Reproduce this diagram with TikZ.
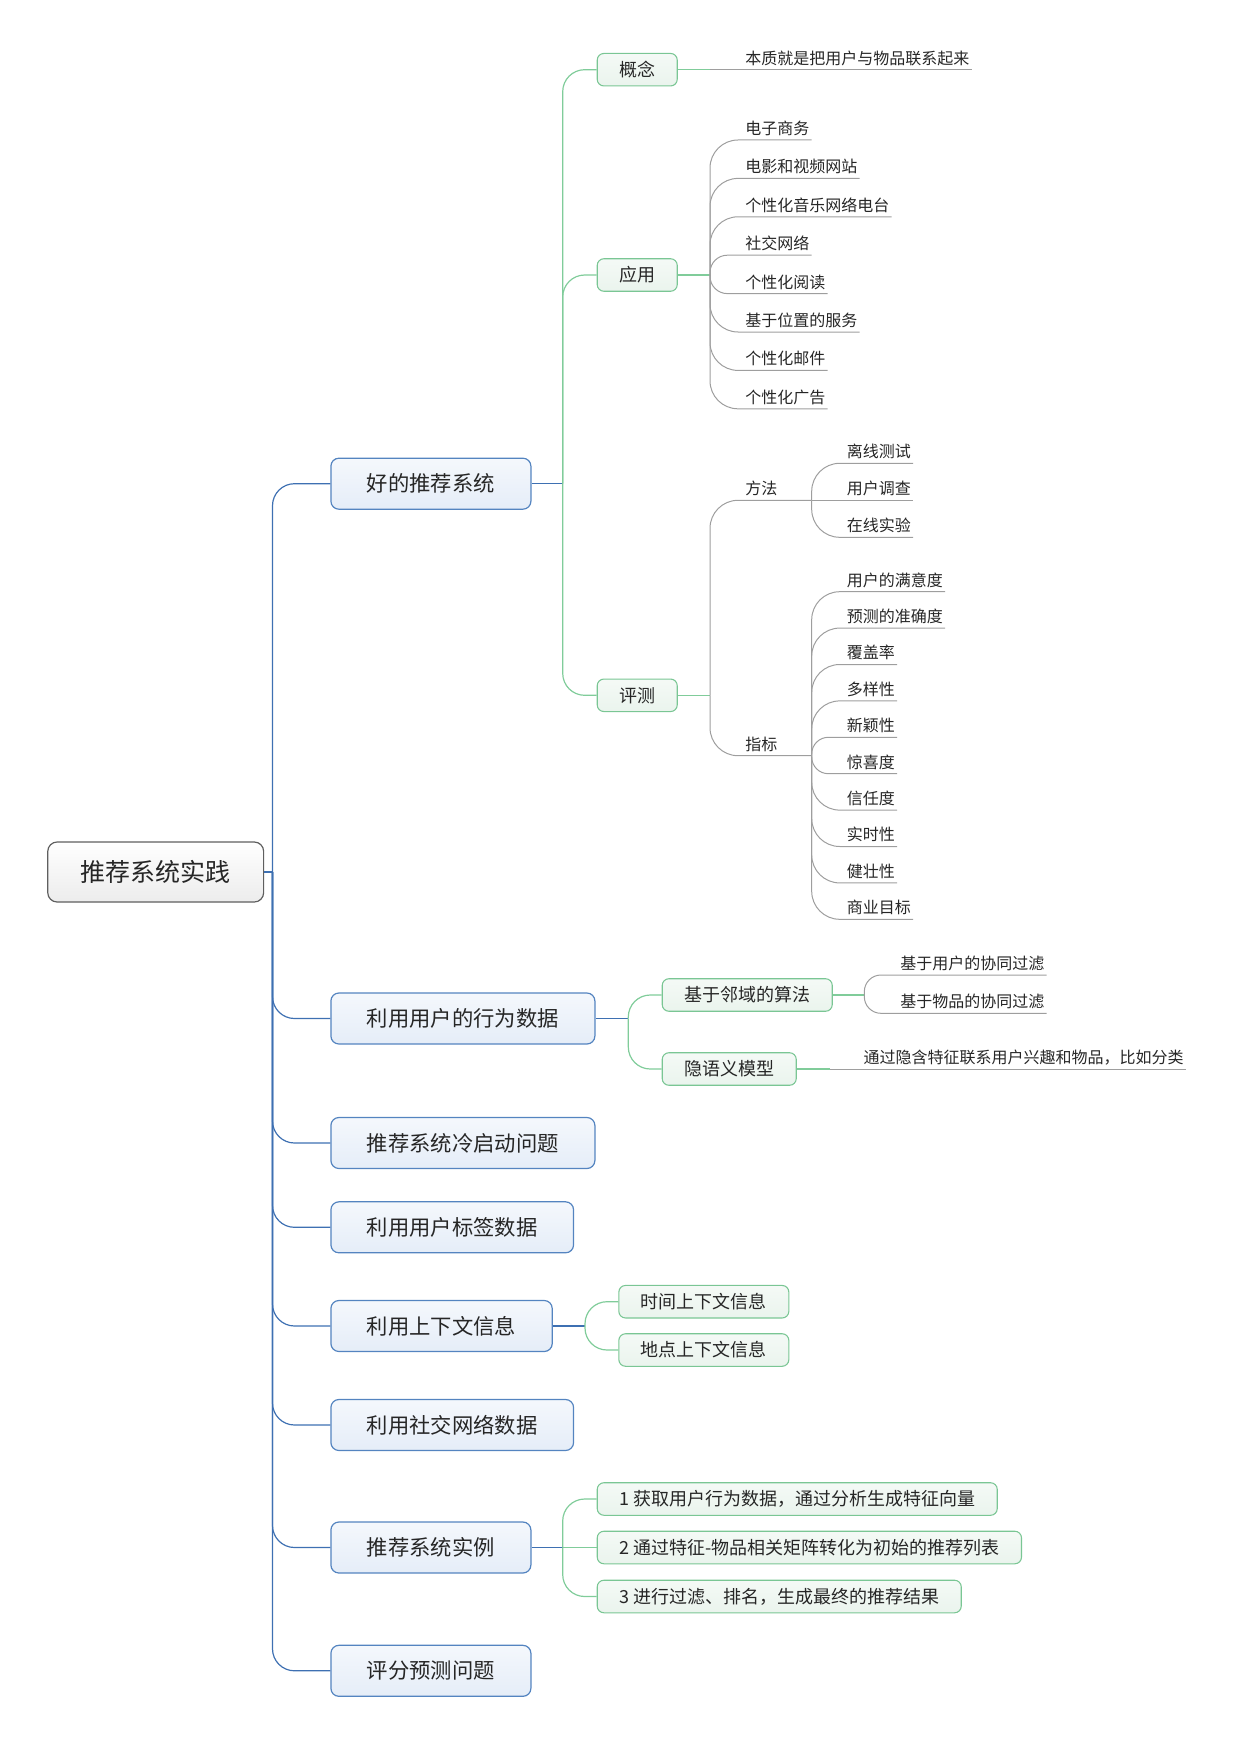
\documentclass[tikz,border=0pt]{standalone}
\usepackage{fontspec}
\setmainfont{Noto Sans CJK SC}
\usepackage{tikz}
\usetikzlibrary{positioning}
\definecolor{trunkblue}{RGB}{62,112,178}
\definecolor{topicedge}{RGB}{84,132,192}
\definecolor{topicfill}{RGB}{229,237,248}
\definecolor{rootedge}{RGB}{95,95,95}
\definecolor{rootfill}{RGB}{236,236,236}
\definecolor{subedge}{RGB}{122,198,148}
\definecolor{subfill}{RGB}{234,244,237}
\definecolor{branchgreen}{RGB}{128,204,154}
\definecolor{leafgray}{RGB}{158,158,158}
\definecolor{inktext}{RGB}{38,38,38}
\tikzstyle{rootbox} = [rectangle, rounded corners=7pt, draw=rootedge, line width=0.9pt, top color=white, bottom color=rootfill, minimum height=45pt, inner xsep=24.7pt, text=inktext, font=\fontsize{18.75}{22}\selectfont]
\tikzstyle{topic} = [rectangle, rounded corners=6pt, draw=topicedge, line width=0.9pt, top color=white!60!topicfill, bottom color=topicfill, minimum height=38.25pt, inner xsep=27pt, anchor=west, text=inktext, font=\fontsize{16}{19}\selectfont]
\tikzstyle{subtopic} = [rectangle, rounded corners=5pt, draw=subedge, line width=0.8pt, top color=white!50!subfill, bottom color=subfill, minimum height=24.4pt, inner xsep=16.5pt, anchor=west, text=inktext, font=\fontsize{13.5}{16}\selectfont]
\tikzstyle{leaf} = [inner xsep=1.5pt, inner ysep=2.5pt, text depth=1.5pt, anchor=south west, text=inktext, font=\fontsize{12}{14}\selectfont]
\tikzstyle{trunkline} = [draw=trunkblue, line width=0.9pt, rounded corners=16.5pt]
\tikzstyle{greenline} = [draw=branchgreen, line width=0.9pt, rounded corners=16.5pt]
\tikzstyle{grayline} = [draw=leafgray, line width=0.75pt, rounded corners=21pt]

\begin{document}
\begin{tikzpicture}[x=0.75pt, y=-0.75pt]
  \useasboundingbox (0,0) rectangle (1237,1744);

  % root and main topics
  \node (root) [rootbox] at (155.7,872) {推荐系统实践};
  \coordinate (trunk) at (272.5,872);
  \node (t1) [topic] at (330.3,483.7) {好的推荐系统};
  \node (t2) [topic] at (330.3,1018.5) {利用用户的行为数据};
  \node (t3) [topic] at (330.3,1143) {推荐系统冷启动问题};
  \node (t4) [topic] at (330.3,1227.3) {利用用户标签数据};
  \node (t5) [topic] at (330.3,1326) {利用上下文信息};
  \node (t6) [topic] at (330.3,1425) {利用社交网络数据};
  \node (t7) [topic] at (330.3,1547.5) {推荐系统实例};
  \node (t8) [topic] at (330.3,1670.8) {评分预测问题};

  \draw[trunkline] (root.east) -- (trunk);
  \draw[trunkline] (trunk) |- (t1.west);
  \draw[trunkline] (trunk) |- (t2.west);
  \draw[trunkline] (trunk) |- (t3.west);
  \draw[trunkline] (trunk) |- (t4.west);
  \draw[trunkline] (trunk) |- (t5.west);
  \draw[trunkline] (trunk) |- (t6.west);
  \draw[trunkline] (trunk) |- (t7.west);
  \draw[trunkline] (trunk) |- (t8.west);

  % 好的推荐系统
  \coordinate (t1j) at (562.7,483.7);
  \node (gn) [subtopic] at (596.7,69.7) {概念};
  \node (yy) [subtopic] at (596.7,275) {应用};
  \node (pc) [subtopic] at (596.7,695.3) {评测};
  \draw[trunkline] (t1.east) -- (t1j);
  \draw[greenline] (t1j) |- (gn.west);
  \draw[greenline] (t1j) |- (yy.west);
  \draw[greenline] (t1j) |- (pc.west);

  \coordinate (gnj) at (710,69.7);
  \node (gn1) [leaf] at (743,69.7) {本质就是把用户与物品联系起来};
  \draw[greenline] (gn.east) -- (gnj);
  \draw[grayline] (gnj) -- (gn1.south east);

  \coordinate (yyj) at (710,275);
  \node (app1) [leaf] at (743,140) {电子商务};
  \node (app2) [leaf] at (743,178.4) {电影和视频网站};
  \node (app3) [leaf] at (743,216.8) {个性化音乐网络电台};
  \node (app4) [leaf] at (743,255.2) {社交网络};
  \node (app5) [leaf] at (743,293.6) {个性化阅读};
  \node (app6) [leaf] at (743,332) {基于位置的服务};
  \node (app7) [leaf] at (743,370.4) {个性化邮件};
  \node (app8) [leaf] at (743,408.8) {个性化广告};
  \draw[greenline] (yy.east) -- (yyj);
  \draw[grayline] (yyj) |- (app1.south east);
  \draw[grayline] (yyj) |- (app2.south east);
  \draw[grayline] (yyj) |- (app3.south east);
  \draw[grayline, rounded corners=13pt] (yyj) |- (app4.south east);
  \draw[grayline, rounded corners=13pt] (yyj) |- (app5.south east);
  \draw[grayline] (yyj) |- (app6.south east);
  \draw[grayline] (yyj) |- (app7.south east);
  \draw[grayline] (yyj) |- (app8.south east);

  \coordinate (pcj) at (710,695.3);
  \coordinate (ffj) at (811.7,500.3);
  \coordinate (zbj) at (811.7,755.7);
  \node (ff) [leaf] at (743,500.3) {方法};
  \node (zb) [leaf] at (743,755.7) {指标};
  \draw[greenline] (pc.east) -- (pcj);
  \draw[grayline] (pcj) |- (ffj);
  \draw[grayline] (pcj) |- (zbj);

  \node (ff1) [leaf] at (844.7,463.3) {离线测试};
  \node (ff2) [leaf] at (844.7,500.3) {用户调查};
  \node (ff3) [leaf] at (844.7,537.3) {在线实验};
  \draw[grayline] (ffj) |- (ff1.south east);
  \draw[grayline] (ffj) -- (ff2.south east);
  \draw[grayline] (ffj) |- (ff3.south east);

  \node (zb1) [leaf] at (844.7,591.7) {用户的满意度};
  \node (zb2) [leaf] at (844.7,628.1) {预测的准确度};
  \node (zb3) [leaf] at (844.7,664.5) {覆盖率};
  \node (zb4) [leaf] at (844.7,700.9) {多样性};
  \node (zb5) [leaf] at (844.7,737.3) {新颖性};
  \node (zb6) [leaf] at (844.7,773.7) {惊喜度};
  \node (zb7) [leaf] at (844.7,810.1) {信任度};
  \node (zb8) [leaf] at (844.7,846.5) {实时性};
  \node (zb9) [leaf] at (844.7,882.9) {健壮性};
  \node (zb10) [leaf] at (844.7,919.3) {商业目标};
  \draw[grayline] (zbj) |- (zb1.south east);
  \draw[grayline] (zbj) |- (zb2.south east);
  \draw[grayline] (zbj) |- (zb3.south east);
  \draw[grayline] (zbj) |- (zb4.south east);
  \draw[grayline, rounded corners=12.5pt] (zbj) |- (zb5.south east);
  \draw[grayline, rounded corners=12.5pt] (zbj) |- (zb6.south east);
  \draw[grayline] (zbj) |- (zb7.south east);
  \draw[grayline] (zbj) |- (zb8.south east);
  \draw[grayline] (zbj) |- (zb9.south east);
  \draw[grayline] (zbj) |- (zb10.south east);

  % 利用用户的行为数据
  \coordinate (t2j) at (628.3,1018.5);
  \node (ly) [subtopic] at (661.7,995) {基于邻域的算法};
  \node (yyi) [subtopic] at (661.7,1069) {隐语义模型};
  \draw[trunkline] (t2.east) -- (t2j);
  \draw[greenline] (t2j) |- (ly.west);
  \draw[greenline] (t2j) |- (yyi.west);

  \coordinate (lyj) at (864.3,995);
  \node (ly1) [leaf] at (898,975) {基于用户的协同过滤};
  \node (ly2) [leaf] at (898,1013.3) {基于物品的协同过滤};
  \draw[greenline] (ly.east) -- (lyj);
  \draw[grayline, rounded corners=12.5pt] (lyj) |- (ly1.south east);
  \draw[grayline, rounded corners=12.5pt] (lyj) |- (ly2.south east);

  \coordinate (yyij) at (830,1069);
  \node (yyi1) [leaf] at (861.3,1069) {通过隐含特征联系用户兴趣和物品，比如分类};
  \draw[greenline] (yyi.east) -- (yyij);
  \draw[grayline] (yyij) -- (yyi1.south east);

  % 利用上下文信息
  \coordinate (t5j) at (585,1326);
  \node (sj) [subtopic] at (618.3,1301.7) {时间上下文信息};
  \node (dd) [subtopic] at (618.3,1350) {地点上下文信息};
  \draw[trunkline] (t5.east) -- (t5j);
  \draw[greenline] (t5j) |- (sj.west);
  \draw[greenline] (t5j) |- (dd.west);

  % 推荐系统实例
  \coordinate (t7j) at (562.7,1547.5);
  \node (s1) [subtopic] at (596.7,1499) {1 获取用户行为数据，通过分析生成特征向量};
  \node (s2) [subtopic] at (596.7,1547.5) {2 通过特征-物品相关矩阵转化为初始的推荐列表};
  \node (s3) [subtopic] at (596.7,1596.5) {3 进行过滤、排名，生成最终的推荐结果};
  \draw[trunkline] (t7.east) -- (t7j);
  \draw[greenline] (t7j) |- (s1.west);
  \draw[greenline] (t7j) -- (s2.west);
  \draw[greenline] (t7j) |- (s3.west);
\end{tikzpicture}
\end{document}
